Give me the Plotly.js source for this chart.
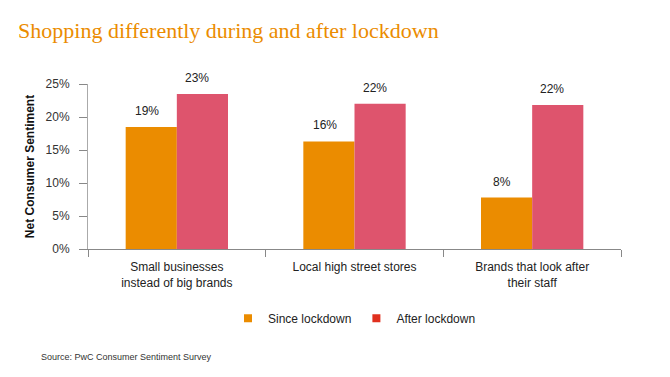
<!DOCTYPE html>
<html>
<head>
<meta charset="utf-8">
<script src="https://cdn.plot.ly/plotly-3.0.1.min.js"></script>
<style>
html,body{margin:0;padding:0;background:#fff;}
#chart{width:670px;height:377px;}
</style>
</head>
<body>
<div id="chart"></div>
<script>
const categories = ["Small businesses<br>instead of big brands", "Local high street stores", "Brands that look after<br>their staff"];
const sinceLockdown = [18.5, 16.3, 7.8];
const afterLockdown = [23.5, 22.0, 21.8];
const sinceLabels = ["19%", "16%", "8%"];
const afterLabels = ["23%", "22%", "22%"];
const yTickVals = [0, 5, 10, 15, 20, 25];
const yTickText = ["0%", "5%", "10%", "15%", "20%", "25%"];
const seriesNames = ["Since lockdown", "After lockdown"];

const barColors = ["#eb8c00", "#de546d"];
const legendColors = ["#eb8c00", "#e0301e"];

const traces = [
  {type: "bar", x: categories, y: sinceLockdown, marker: {color: barColors[0], line: {width: 0}}, showlegend: false, hoverinfo: "skip"},
  {type: "bar", x: categories, y: afterLockdown, marker: {color: barColors[1], line: {width: 0}}, showlegend: false, hoverinfo: "skip"},
  {type: "scatter", mode: "markers", x: [null], y: [null], name: seriesNames[0], marker: {symbol: "square", size: 8, color: legendColors[0]}},
  {type: "scatter", mode: "markers", x: [null], y: [null], name: seriesNames[1], marker: {symbol: "square", size: 8, color: legendColors[1]}}
];

const labelFont = {family: "Liberation Sans, Arial, sans-serif", size: 12, color: "#222"};
const annotations = [];
categories.forEach((c, i) => {
  annotations.push({x: c, y: sinceLockdown[i], text: sinceLabels[i], showarrow: false, xref: "x", yref: "y", yanchor: "bottom", xshift: -30, yshift: 7, font: labelFont});
  annotations.push({x: c, y: afterLockdown[i], text: afterLabels[i], showarrow: false, xref: "x", yref: "y", yanchor: "bottom", xshift: 20, yshift: 7, font: labelFont});
});
annotations.push({text: "Source: PwC Consumer Sentiment Survey", xref: "paper", yref: "paper", x: -0.092, y: -0.655, xanchor: "left", yanchor: "middle", showarrow: false, font: {family: "Liberation Sans, Arial, sans-serif", size: 9, color: "#333"}});

const layout = {
  width: 670, height: 377,
  margin: {l: 88, r: 49, t: 84, b: 128},
  paper_bgcolor: "#fff", plot_bgcolor: "#fff",
  title: {text: "Shopping differently during and after lockdown", xref: "container", yref: "container", x: 0.027, xanchor: "left", y: 0.92, yanchor: "middle",
          font: {family: "Liberation Serif, DejaVu Serif, serif", size: 22, color: "#eb8c00"}},
  barmode: "group", bargap: 0.424, bargroupgap: 0,
  xaxis: {type: "category", showline: true, linecolor: "#888", linewidth: 1, ticks: "outside", tickson: "boundaries", ticklen: 7, tickcolor: "#888",
          ticklabelstandoff: 7,
          showgrid: false, tickfont: {family: "Liberation Sans, Arial, sans-serif", size: 12, color: "#222"}, fixedrange: true},
  yaxis: {range: [0, 25], tickvals: yTickVals, ticktext: yTickText, showline: true, linecolor: "#aaa", linewidth: 1, ticks: "outside", ticklen: 8, tickcolor: "#888",
          ticklabelstandoff: 7,
          showgrid: false, zeroline: false, tickfont: {family: "Liberation Sans, Arial, sans-serif", size: 12, color: "#333"},
          title: {text: "<b>Net Consumer Sentiment</b>", standoff: 8, font: {family: "Liberation Sans, Arial, sans-serif", size: 12, color: "#111"}}},
  legend: {orientation: "h", x: 0.5, xanchor: "center", y: -0.42, yanchor: "middle", font: {family: "Liberation Sans, Arial, sans-serif", size: 12, color: "#222"}, itemwidth: 30, tracegroupgap: 0},
  annotations: annotations,
  showlegend: true
};

Plotly.newPlot("chart", traces, layout, {displayModeBar: false, staticPlot: true});
</script>
</body>
</html>
